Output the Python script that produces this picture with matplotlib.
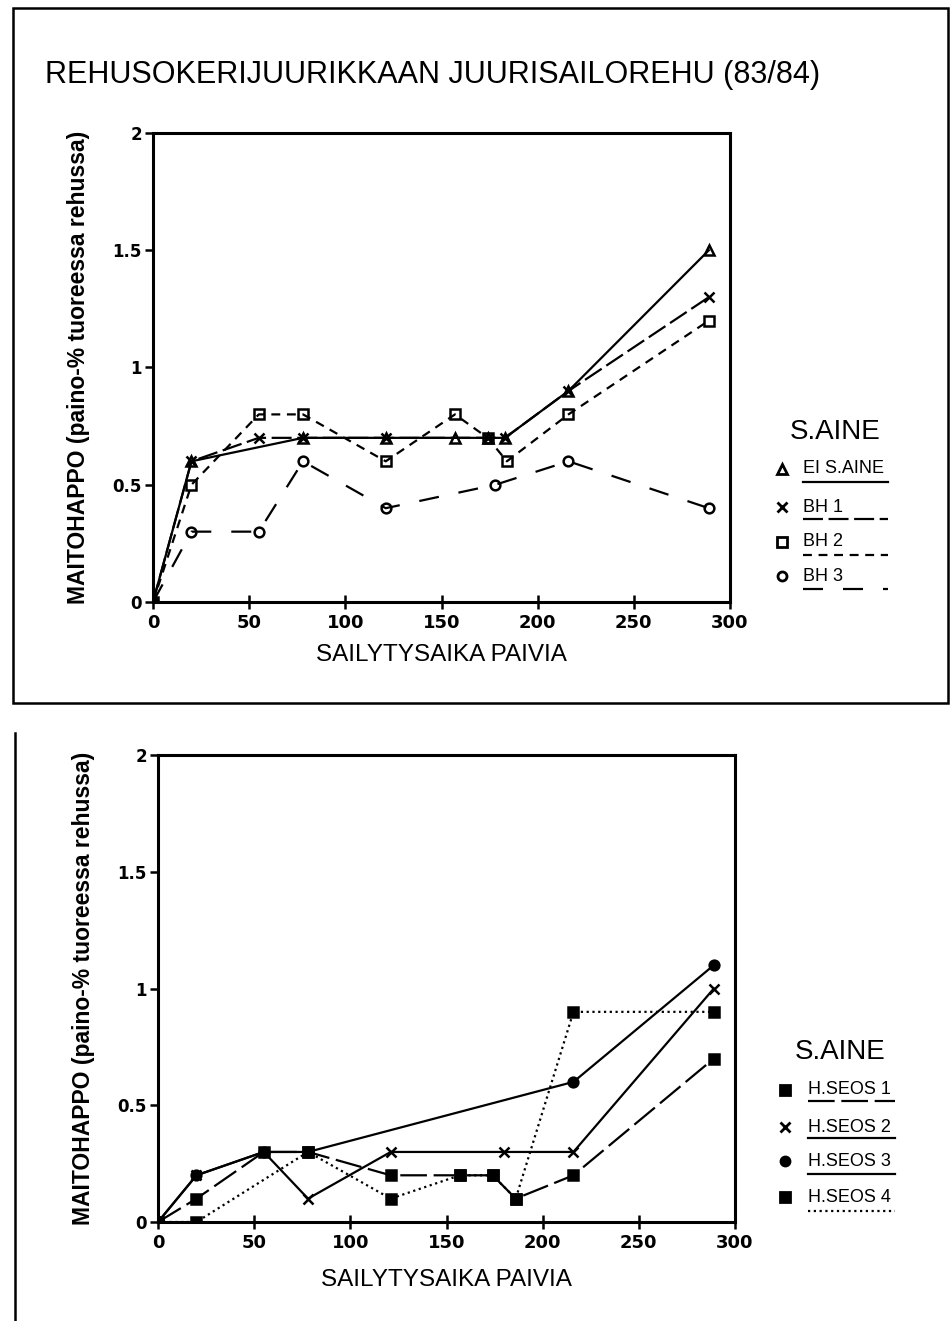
import matplotlib
matplotlib.use("Agg")
import matplotlib.pyplot as plt
from matplotlib.lines import Line2D
from matplotlib.patches import Rectangle

plt.rcParams['font.family'] = ['Liberation Sans', 'DejaVu Sans']

W, H = 950, 1321

# storage days and lactic acid values, upper panel
days_ei = [0, 20, 78, 121, 157, 174, 183, 216, 289]
ei_saine = [0, 0.6, 0.7, 0.7, 0.7, 0.7, 0.7, 0.9, 1.5]
days_bh1 = [0, 20, 55, 78, 121, 174, 183, 216, 289]
bh1 = [0, 0.6, 0.7, 0.7, 0.7, 0.7, 0.7, 0.9, 1.3]
days_bh2 = [0, 20, 55, 78, 121, 157, 174, 184, 216, 289]
bh2 = [0, 0.5, 0.8, 0.8, 0.6, 0.8, 0.7, 0.6, 0.8, 1.2]
days_bh3 = [0, 20, 55, 78, 121, 178, 216, 289]
bh3 = [0, 0.3, 0.3, 0.6, 0.4, 0.5, 0.6, 0.4]

# lower panel
days_hs1 = [0, 20, 55, 78, 121, 157, 174, 186, 216, 289]
hseos1 = [0, 0.1, 0.3, 0.3, 0.2, 0.2, 0.2, 0.1, 0.2, 0.7]
days_hs2 = [0, 20, 55, 78, 121, 180, 216, 289]
hseos2 = [0, 0.2, 0.3, 0.1, 0.3, 0.3, 0.3, 1.0]
days_hs3 = [0, 20, 55, 78, 216, 289]
hseos3 = [0, 0.2, 0.3, 0.3, 0.6, 1.1]
days_hs4 = [0, 20, 78, 121, 157, 174, 186, 216, 289]
hseos4 = [0, 0, 0.3, 0.1, 0.2, 0.2, 0.1, 0.9, 0.9]

title = 'REHUSOKERIJUURIKKAAN JUURISAILOREHU (83/84)'
xlabel = 'SAILYTYSAIKA PAIVIA'
ylabel = 'MAITOHAPPO (paino-% tuoreessa rehussa)'
xticks = [0, 50, 100, 150, 200, 250, 300]
yticks = [0, 0.5, 1, 1.5, 2]
yticklabels = ['0', '0.5', '1', '1.5', '2']

top_series = [
    ('EI S.AINE', days_ei, ei_saine, '^', 'none', '-'),
    ('BH 1', days_bh1, bh1, 'x', 'k', (0, (9, 2.5))),
    ('BH 2', days_bh2, bh2, 's', 'none', (0, (4, 3))),
    ('BH 3', days_bh3, bh3, 'o', 'none', (0, (9, 9))),
]
bottom_series = [
    ('H.SEOS 1', days_hs1, hseos1, 's', 'k', (0, (12, 3))),
    ('H.SEOS 2', days_hs2, hseos2, 'x', 'k', '-'),
    ('H.SEOS 3', days_hs3, hseos3, 'o', 'k', '-'),
    ('H.SEOS 4', days_hs4, hseos4, 's', 'k', (0, (1, 1.6))),
]


def fx(x):
    return x / W


def fy(y):
    return 1 - y / H


fig = plt.figure(figsize=(9.5, 13.21), dpi=100)


def panel(rect, series, xpad):
    ax = fig.add_axes(rect)
    for name, xs, ys, mk, fc, ls in series:
        ax.plot(xs, ys, color='k', linestyle=ls, linewidth=1.6,
                marker=mk, markersize=7, markerfacecolor=fc,
                markeredgewidth=1.8, markeredgecolor='k')
    ax.set_xlim(0, 300)
    ax.set_ylim(0, 2)
    ax.set_xticks(xticks)
    ax.set_yticks(yticks)
    ax.set_yticklabels(yticklabels)
    for s in ax.spines.values():
        s.set_linewidth(2.2)
    ax.tick_params(axis='x', direction='inout', length=10, width=1.8,
                   labelsize=13, pad=4)
    ax.tick_params(axis='y', direction='out', length=6, width=1.8,
                   labelsize=12, pad=2)
    for lab in ax.get_xticklabels() + ax.get_yticklabels():
        lab.set_fontweight('bold')
        lab.set_family(['DejaVu Sans'])
    ax.set_xlabel(xlabel, fontsize=17.5, labelpad=xpad)
    ax.set_ylabel(ylabel, fontsize=16.5, fontweight='bold', labelpad=16)
    return ax


def legend(series, x_mark, x_text, x_end, y_title, ys_text, ys_line, x_title):
    fig.text(fx(x_title), fy(y_title), 'S.AINE', fontsize=20,
             ha='left', va='center')
    for (name, xs, vals, mk, fc, ls), yt, yl in zip(series, ys_text, ys_line):
        fig.add_artist(Line2D([fx(x_mark)], [fy(yt)], marker=mk,
                              markersize=6.5, markerfacecolor=fc,
                              markeredgecolor='k', markeredgewidth=2,
                              linestyle='none'))
        fig.text(fx(x_text), fy(yt), name, fontsize=13, ha='left',
                 va='center')
        fig.add_artist(Line2D([fx(x_text), fx(x_end)], [fy(yl), fy(yl)],
                              color='k', linestyle=ls, linewidth=1.6))


ax1 = panel([fx(153), fy(602), fx(730) - fx(153), fy(133) - fy(602)],
            top_series, 8)
ax2 = panel([fx(158), fy(1222), fx(735) - fx(158), fy(755) - fy(1222)],
            bottom_series, 12)

fig.text(fx(45), fy(75), title, fontsize=22, ha='left', va='center')

legend(top_series, 782, 803, 888, 432, [469, 507, 542, 576],
       [482, 519, 555, 589], 790)
legend(bottom_series, 785, 808, 895, 1052, [1090, 1127, 1161, 1197],
       [1101, 1138, 1174, 1211], 795)

# frame round the upper panel and the left rule of the lower one
fig.add_artist(Rectangle((fx(13), fy(703)), fx(948) - fx(13),
                         fy(8) - fy(703), fill=False, linewidth=1.8,
                         edgecolor='k', transform=fig.transFigure))
fig.add_artist(Line2D([fx(15), fx(15)], [fy(733), 0], color='k',
                      linewidth=1.8))

fig.savefig('out.png', dpi=100)
